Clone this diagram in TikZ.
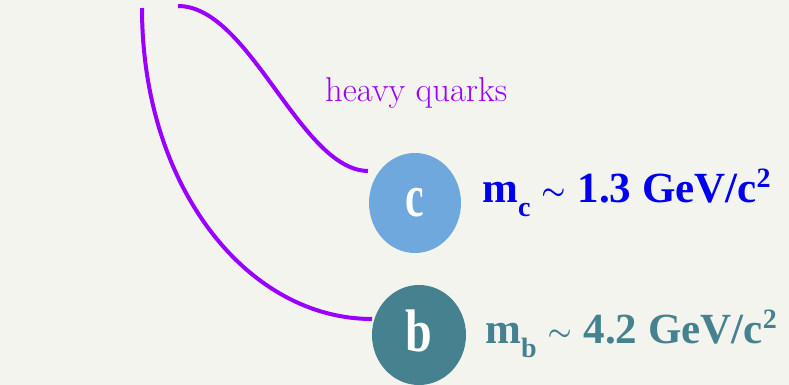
\RequirePackage{fix-cm}
\documentclass[tikz,border=0pt]{standalone}
\usepackage{fontspec}
\newfontfamily\massfont{Liberation Serif}
\usetikzlibrary{shapes.geometric}
\definecolor{bg}{HTML}{F4F4EF}
\definecolor{cfill}{HTML}{6FA8DC}
\definecolor{bfill}{HTML}{45818E}
\definecolor{ctext}{HTML}{0000F0}
\definecolor{purp}{HTML}{9900FF}
\tikzset{
  quark/.style={ellipse, inner sep=0pt, text=white, font=\massfont\bfseries\fontsize{60}{60}\selectfont},
  masslabel/.style={anchor=base west, inner sep=0pt, font=\massfont\bfseries\fontsize{43}{43}\selectfont},
  link/.style={draw=purp, line width=4pt},
}
\newcommand{\subtxt}[1]{\raisebox{-14pt}{\fontsize{28}{28}\selectfont #1}}
\newcommand{\suptxt}[1]{\raisebox{15pt}{\fontsize{28}{28}\selectfont #1}}
\newcommand{\simsym}{\hspace{11pt}\raisebox{3pt}{\fontsize{27}{27}\selectfont\boldmath$\sim$}\hspace{12pt}}
\begin{document}
\begin{tikzpicture}[x=1pt,y=-1pt]
\fill[bg] (0,0) rectangle (789,385);
\useasboundingbox (0,0) rectangle (789,385);
\node[quark, fill=cfill, minimum width=92pt, minimum height=100pt] (c) at (415,203) {\scalebox{0.7}[1]{c}};
\node[quark, fill=bfill, minimum width=94pt, minimum height=100pt] (b) at (419,335) {\raisebox{8pt}{\scalebox{0.8}[1]{b}}};
\node[masslabel, text=ctext] (mc) at (482,202) {m\subtxt{c}\simsym 1.3 GeV/c\suptxt{2}};
\node[masslabel, text=bfill] (mb) at (485,343) {m\subtxt{b}\simsym 4.2 GeV/c\suptxt{2}};
\node[anchor=base west, inner sep=0pt, text=purp, font=\fontsize{34.5}{34.5}\selectfont] (hq) at (325,102) {heavy quarks};
\coordinate (s1) at (178,6);
\coordinate (e1) at (368,171);
\coordinate (s2) at (142,8);
\coordinate (e2) at (372,319);
\draw[link] (s1) .. controls (250,6) and (300,170) .. (e1);
\draw[link] (s2) .. controls (142,188) and (248,319) .. (e2);
\end{tikzpicture}
\end{document}
